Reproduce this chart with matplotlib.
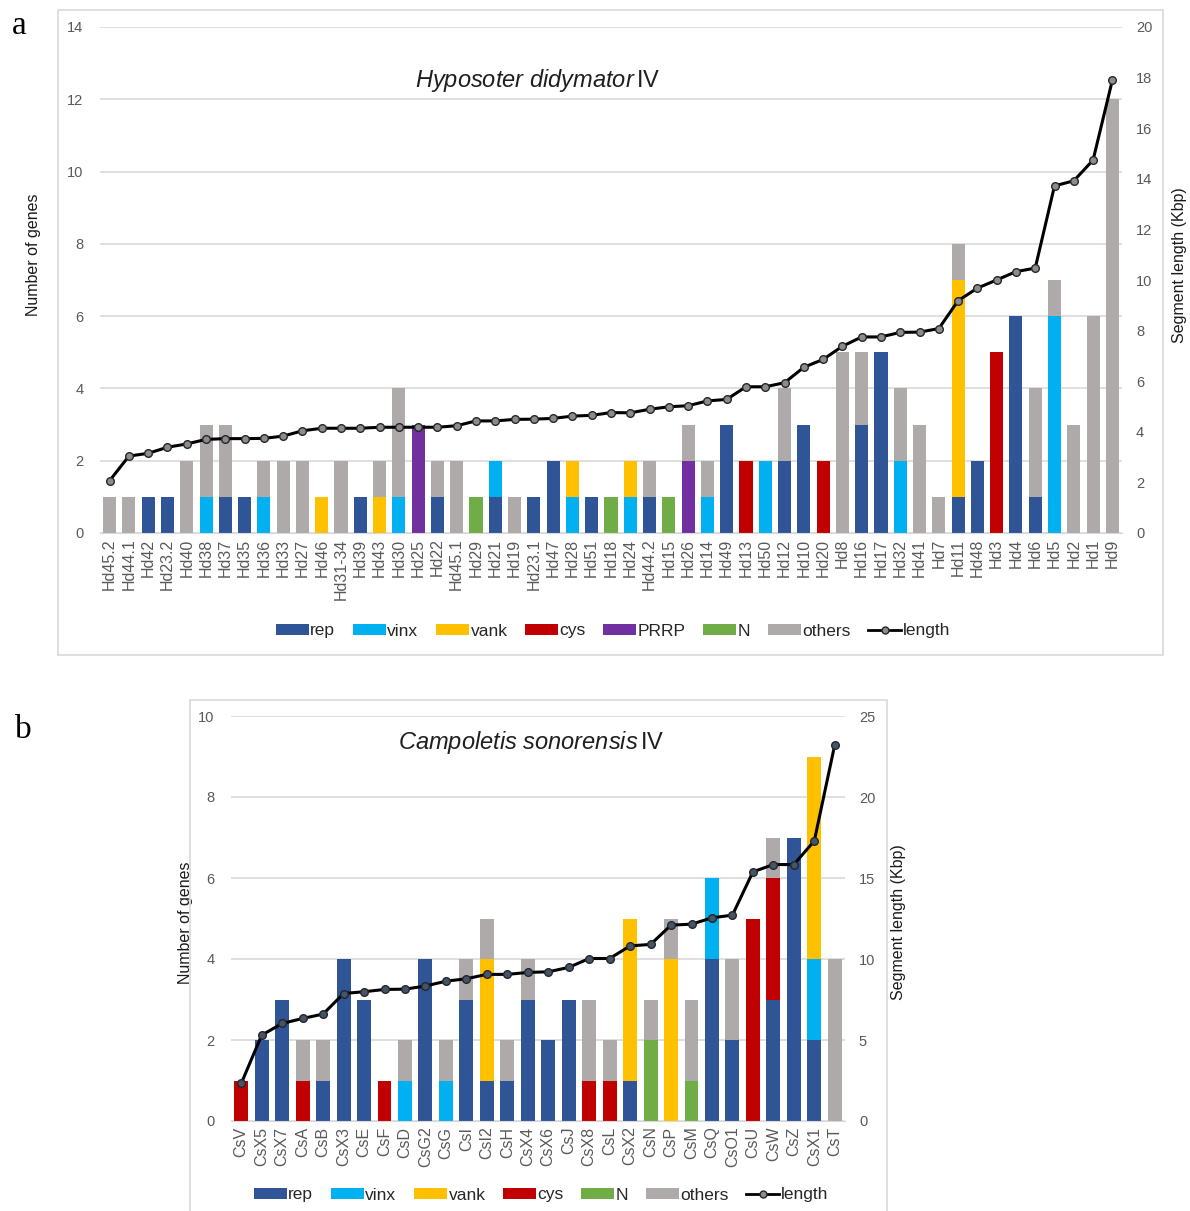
import matplotlib
matplotlib.use("Agg")
import matplotlib.pyplot as plt
import numpy as np
from matplotlib.patches import Rectangle, Patch
from matplotlib.lines import Line2D

plt.rcParams['font.family'] = ['Liberation Sans', 'DejaVu Sans']
plt.rcParams['mathtext.fontset'] = 'custom'
plt.rcParams['mathtext.rm'] = 'Liberation Sans'
plt.rcParams['mathtext.it'] = 'Liberation Sans:italic'

# ---- panel a : Hyposoter didymator IV ----
a_cats = ['Hd45.2', 'Hd44.1', 'Hd42', 'Hd23.2', 'Hd40', 'Hd38', 'Hd37', 'Hd35', 'Hd36', 'Hd33',
          'Hd27', 'Hd46', 'Hd31-34', 'Hd39', 'Hd43', 'Hd30', 'Hd25', 'Hd22', 'Hd45.1', 'Hd29',
          'Hd21', 'Hd19', 'Hd23.1', 'Hd47', 'Hd28', 'Hd51', 'Hd18', 'Hd24', 'Hd44.2', 'Hd15',
          'Hd26', 'Hd14', 'Hd49', 'Hd13', 'Hd50', 'Hd12', 'Hd10', 'Hd20', 'Hd8', 'Hd16',
          'Hd17', 'Hd32', 'Hd41', 'Hd7', 'Hd11', 'Hd48', 'Hd3', 'Hd4', 'Hd6', 'Hd5',
          'Hd2', 'Hd1', 'Hd9']
a_rep = [0, 0, 1, 1, 0, 0, 1, 1, 0, 0, 0, 0, 0, 1, 0, 0, 0, 1, 0, 0,
         1, 0, 1, 2, 0, 1, 0, 0, 1, 0, 0, 0, 3, 0, 0, 2, 3, 0, 0, 3,
         5, 0, 0, 0, 1, 2, 0, 6, 1, 0, 0, 0, 0]
a_vinx = [0, 0, 0, 0, 0, 1, 0, 0, 1, 0, 0, 0, 0, 0, 0, 1, 0, 0, 0, 0,
          1, 0, 0, 0, 1, 0, 0, 1, 0, 0, 0, 1, 0, 0, 2, 0, 0, 0, 0, 0,
          0, 2, 0, 0, 0, 0, 0, 0, 0, 6, 0, 0, 0]
a_vank = [0, 0, 0, 0, 0, 0, 0, 0, 0, 0, 0, 1, 0, 0, 1, 0, 0, 0, 0, 0,
          0, 0, 0, 0, 1, 0, 0, 1, 0, 0, 0, 0, 0, 0, 0, 0, 0, 0, 0, 0,
          0, 0, 0, 0, 6, 0, 0, 0, 0, 0, 0, 0, 0]
a_cys = [0, 0, 0, 0, 0, 0, 0, 0, 0, 0, 0, 0, 0, 0, 0, 0, 0, 0, 0, 0,
         0, 0, 0, 0, 0, 0, 0, 0, 0, 0, 0, 0, 0, 2, 0, 0, 0, 2, 0, 0,
         0, 0, 0, 0, 0, 0, 5, 0, 0, 0, 0, 0, 0]
a_prrp = [0, 0, 0, 0, 0, 0, 0, 0, 0, 0, 0, 0, 0, 0, 0, 0, 3, 0, 0, 0,
          0, 0, 0, 0, 0, 0, 0, 0, 0, 0, 2, 0, 0, 0, 0, 0, 0, 0, 0, 0,
          0, 0, 0, 0, 0, 0, 0, 0, 0, 0, 0, 0, 0]
a_n = [0, 0, 0, 0, 0, 0, 0, 0, 0, 0, 0, 0, 0, 0, 0, 0, 0, 0, 0, 1,
       0, 0, 0, 0, 0, 0, 1, 0, 0, 1, 0, 0, 0, 0, 0, 0, 0, 0, 0, 0,
       0, 0, 0, 0, 0, 0, 0, 0, 0, 0, 0, 0, 0]
a_others = [1, 1, 0, 0, 2, 2, 2, 0, 1, 2, 2, 0, 2, 0, 1, 3, 0, 1, 2, 0,
            0, 1, 0, 0, 0, 0, 0, 0, 1, 0, 1, 1, 0, 0, 0, 2, 0, 0, 5, 2,
            0, 2, 3, 1, 1, 0, 0, 0, 3, 1, 3, 6, 12]
a_length = [2.07, 3.04, 3.15, 3.39, 3.52, 3.70, 3.73, 3.73, 3.74, 3.83,
            4.04, 4.14, 4.14, 4.14, 4.18, 4.18, 4.18, 4.18, 4.24, 4.43,
            4.43, 4.49, 4.50, 4.53, 4.62, 4.65, 4.76, 4.75, 4.89, 4.99,
            5.03, 5.22, 5.28, 5.78, 5.78, 5.94, 6.55, 6.86, 7.38, 7.75,
            7.75, 7.93, 7.94, 8.08, 9.18, 9.68, 10.0, 10.33, 10.47, 13.72,
            13.92, 14.74, 17.9]

# ---- panel b : Campoletis sonorensis IV ----
b_cats = ['CsV', 'CsX5', 'CsX7', 'CsA', 'CsB', 'CsX3', 'CsE', 'CsF', 'CsD', 'CsG2',
          'CsG', 'CsI', 'CsI2', 'CsH', 'CsX4', 'CsX6', 'CsJ', 'CsX8', 'CsL', 'CsX2',
          'CsN', 'CsP', 'CsM', 'CsQ', 'CsO1', 'CsU', 'CsW', 'CsZ', 'CsX1', 'CsT']
b_rep = [0, 2, 3, 0, 1, 4, 3, 0, 0, 4, 0, 3, 1, 1, 3, 2, 3, 0, 0, 1,
         0, 0, 0, 4, 2, 0, 3, 7, 2, 0]
b_vinx = [0, 0, 0, 0, 0, 0, 0, 0, 1, 0, 1, 0, 0, 0, 0, 0, 0, 0, 0, 0,
          0, 0, 0, 2, 0, 0, 0, 0, 2, 0]
b_vank = [0, 0, 0, 0, 0, 0, 0, 0, 0, 0, 0, 0, 3, 0, 0, 0, 0, 0, 0, 4,
          0, 4, 0, 0, 0, 0, 0, 0, 5, 0]
b_cys = [1, 0, 0, 1, 0, 0, 0, 1, 0, 0, 0, 0, 0, 0, 0, 0, 0, 1, 1, 0,
         0, 0, 0, 0, 0, 5, 3, 0, 0, 0]
b_n = [0, 0, 0, 0, 0, 0, 0, 0, 0, 0, 0, 0, 0, 0, 0, 0, 0, 0, 0, 0,
       2, 0, 1, 0, 0, 0, 0, 0, 0, 0]
b_others = [0, 0, 0, 1, 1, 0, 0, 0, 1, 0, 1, 1, 1, 1, 1, 0, 0, 2, 1, 0,
            1, 1, 2, 0, 2, 0, 1, 0, 0, 4]
b_length = [2.32, 5.30, 6.02, 6.33, 6.60, 7.87, 7.98, 8.12, 8.14, 8.33,
            8.63, 8.78, 9.05, 9.05, 9.17, 9.21, 9.48, 10.03, 10.03, 10.81,
            10.90, 12.09, 12.15, 12.54, 12.71, 15.38, 15.83, 15.83, 17.29, 23.23]

COLORS = {'rep': '#2F5597', 'vinx': '#00B0F0', 'vank': '#FFC000', 'cys': '#C00000',
          'PRRP': '#7030A0', 'N': '#70AD47', 'others': '#AEAAAA'}
TXT = '#595959'
GRID = '#D9D9D9'

W, H = 1190, 1211
fig = plt.figure(figsize=(W / 100, H / 100), dpi=100)


def px_axes(left, top, right, bottom):
    # axes from pixel box
    return fig.add_axes([left / W, 1 - bottom / H, (right - left) / W, (bottom - top) / H])


def frame(left, top, right, bottom):
    fig.patches.append(Rectangle((left / W, 1 - bottom / H), (right - left) / W, (bottom - top) / H,
                                 transform=fig.transFigure, fill=False, edgecolor=GRID, lw=1.2))


def draw_panel(ax, cats, stacks, length, ymax, ystep, rmax, rstep, title, title_pos, mface):
    x = np.arange(len(cats))
    bottom = np.zeros(len(cats))
    for name, vals in stacks:
        vals = np.array(vals, dtype=float)
        ax.bar(x, vals, 0.68, bottom=bottom, color=COLORS[name], zorder=2)
        bottom += vals
    ax.set_xlim(-0.5, len(cats) - 0.5)
    ax.set_ylim(0, ymax)
    ax.set_yticks(np.arange(0, ymax + 0.1, ystep))
    ax.set_xticks(x)
    ax.set_xticklabels(cats, rotation=90, fontsize=11.5, color=TXT)
    ax.tick_params(axis='both', length=0, colors=TXT)
    ax.tick_params(axis='y', labelsize=10.5, pad=12)
    ax.tick_params(axis='x', pad=4)
    ax.grid(axis='y', color=GRID, lw=1.2, zorder=0)
    ax.set_axisbelow(True)
    for s in ['left', 'right', 'top']:
        ax.spines[s].set_visible(False)
    ax.spines['bottom'].set_color(GRID)
    ax.set_ylabel('Number of genes', fontsize=11.5, color='#1A1A1A')

    ax2 = ax.twinx()
    ax2.plot(x, length, color='black', lw=2.2, marker='o', ms=5.5,
             mfc=mface, mec='#262626', mew=1.0, zorder=3)
    ax2.set_ylim(0, rmax)
    ax2.set_yticks(np.arange(0, rmax + 0.1, rstep))
    ax2.tick_params(axis='y', length=0, colors=TXT, labelsize=10.5, pad=10)
    for s in ax2.spines.values():
        s.set_visible(False)
    ax2.set_ylabel('Segment length (Kbp)', fontsize=11.5, color='#1A1A1A')
    ax2.text(title_pos[0], title_pos[1], title, transform=ax.transAxes, ha='center',
             va='center', fontsize=17, color='#1F1F1F')
    return ax2


def legend(names, cx, cy):
    handles = [Patch(facecolor=COLORS[n], label=n) for n in names]
    handles.append(Line2D([], [], color='black', lw=2, marker='o', ms=5,
                          mfc='#8C8C8C', mec='#262626', label='length'))
    fig.legend(handles=handles, loc='center', bbox_to_anchor=(cx / W, 1 - cy / H),
               ncol=len(handles), frameon=False, fontsize=12.5, handlelength=1.9,
               handleheight=0.55, handletextpad=0.1, columnspacing=1.0,
               labelcolor='#262626')


# panel a
frame(58, 10, 1163, 655)
ax_a = px_axes(100, 27, 1122, 533)
stacks_a = [('rep', a_rep), ('vinx', a_vinx), ('vank', a_vank), ('cys', a_cys),
            ('PRRP', a_prrp), ('N', a_n), ('others', a_others)]
ax2_a = draw_panel(ax_a, a_cats, stacks_a, a_length, 14, 2, 20, 2,
                   r'$\mathit{Hyposoter\ didymator}\,$IV', (0.428, 0.895), '#8C8C8C')
ax_a.yaxis.set_label_coords(-0.058, 0.55)
ax2_a.yaxis.set_label_coords(1.049, 0.53)
legend(['rep', 'vinx', 'vank', 'cys', 'PRRP', 'N', 'others'], 613, 631)

# panel b
frame(190, 700, 887, 1215)
ax_b = px_axes(231, 716, 845, 1121)
stacks_b = [('rep', b_rep), ('vinx', b_vinx), ('vank', b_vank), ('cys', b_cys),
            ('N', b_n), ('others', b_others)]
ax2_b = draw_panel(ax_b, b_cats, stacks_b, b_length, 10, 2, 25, 5,
                   r'$\mathit{Campoletis\ sonorensis}\,$IV', (0.489, 0.935), '#44546A')
ax_b.yaxis.set_label_coords(-0.062, 0.49)
ax2_b.yaxis.set_label_coords(1.075, 0.49)
legend(['rep', 'vinx', 'vank', 'cys', 'N', 'others'], 541, 1195)

# panel letters
fig.text(12 / W, 1 - 26 / H, 'a', fontsize=24, family='Liberation Serif', va='center')
fig.text(15 / W, 1 - 730 / H, 'b', fontsize=24, family='Liberation Serif', va='center')

fig.savefig('out.png', dpi=100)
